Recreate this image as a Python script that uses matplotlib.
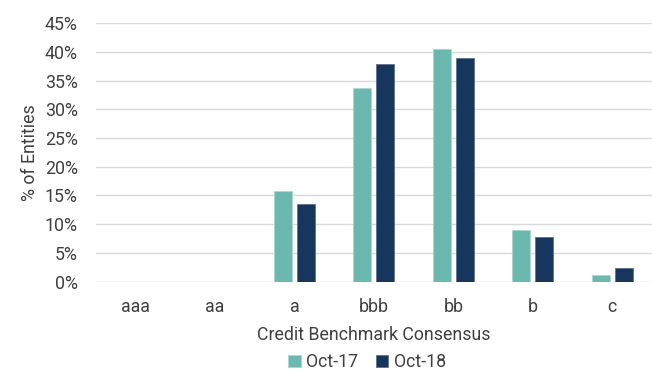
import matplotlib
matplotlib.use("Agg")
import matplotlib.pyplot as plt
import numpy as np
from matplotlib.ticker import FuncFormatter

categories = ["aaa", "aa", "a", "bbb", "bb", "b", "c"]
oct17 = [0.0, 0.0, 15.8, 33.7, 40.5, 9.0, 1.2]
oct18 = [0.0, 0.0, 13.5, 37.9, 38.9, 7.8, 2.3]
series_names = ["Oct-17", "Oct-18"]
yticks = [0, 5, 10, 15, 20, 25, 30, 35, 40, 45]

plt.rcParams['font.family'] = ['Roboto', 'DejaVu Sans']
text_color = "#404040"
fs = 12.8

fig = plt.figure(figsize=(6.52, 3.74), dpi=100)
ax = fig.add_axes([0.147, 0.247, 0.853, 0.691])

x = np.arange(len(categories))
w = 0.227
off = 0.145
c17 = "#6BB9AE"
c18 = "#17365D"
ax.bar(x - off, oct17, width=w, color=c17, edgecolor="#A9D8D0", linewidth=0.6, label=series_names[0], zorder=3)
ax.bar(x + off, oct18, width=w, color=c18, edgecolor="#5D7290", linewidth=0.6, label=series_names[1], zorder=3)

ax.set_ylim(0, 45)
ax.set_xlim(-0.5, len(categories) - 0.5)
ax.set_yticks(yticks)
ax.yaxis.set_major_formatter(FuncFormatter(lambda v, p: f"{int(v)}%"))
ax.set_xticks(x)
ax.set_xticklabels(categories)
ax.grid(axis='y', color="#D9D9D9", linewidth=1.0, zorder=0)
for s in ax.spines.values():
    s.set_visible(False)
ax.tick_params(axis='both', length=0, labelsize=fs, colors=text_color)
ax.tick_params(axis='y', pad=13)
ax.tick_params(axis='x', pad=12)
ax.set_xlabel("Credit Benchmark Consensus", fontsize=fs, color=text_color, labelpad=7)
ax.set_ylabel("% of Entities", fontsize=fs, color=text_color, labelpad=4)

leg = fig.legend(loc='center', bbox_to_anchor=(0.563, 0.032), ncol=2, frameon=False,
                 fontsize=fs, handlelength=0.7, handleheight=0.7, handletextpad=0.3,
                 columnspacing=1.0)
for t in leg.get_texts():
    t.set_color(text_color)

fig.savefig("out.png", dpi=100)
